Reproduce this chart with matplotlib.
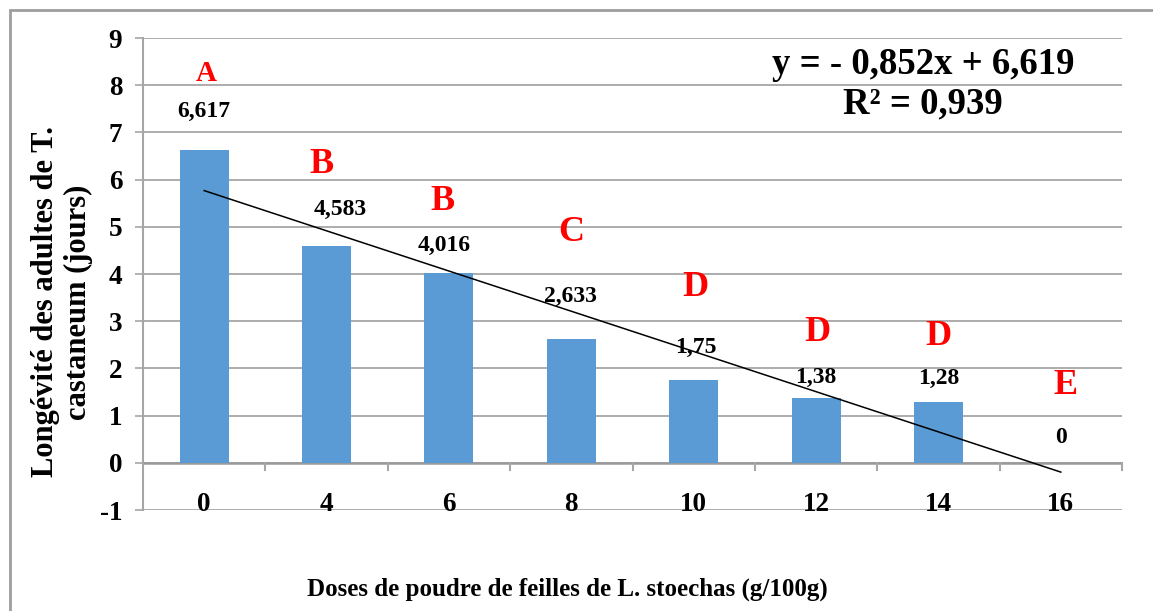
import matplotlib
matplotlib.use("Agg")
import matplotlib.pyplot as plt
from matplotlib.patches import Rectangle

# Data
doses = ["0", "4", "6", "8", "10", "12", "14", "16"]
longevity = [6.617, 4.583, 4.016, 2.633, 1.75, 1.38, 1.28, 0.0]
value_labels = ["6,617", "4,583", "4,016", "2,633", "1,75", "1,38", "1,28", "0"]
groups = ["A", "B", "B", "C", "D", "D", "D", "E"]
slope, intercept = -0.852, 6.619
r2_text = "R² = 0,939"
eq_text = "y = - 0,852x + 6,619"

# Label placement (data units) and letter sizes
value_label_x = [0.0, 1.11, 1.96, 2.99, 4.02, 5.0, 6.0, 7.0]
value_label_y = [7.45, 5.37, 4.61, 3.52, 2.44, 1.80, 1.78, 0.53]
group_label_x = [0.02, 0.96, 1.95, 3.0, 4.01, 5.01, 6.0, 7.04]
group_label_y = [8.24, 6.31, 5.54, 4.88, 3.72, 2.76, 2.68, 1.63]
group_label_size = [21, 26, 26, 26, 26, 26, 26, 26]

W, H = 1153, 611
fig = plt.figure(figsize=(W / 100, H / 100), dpi=100)
plt.rcParams["font.family"] = ["Liberation Serif", "DejaVu Serif"]
plt.rcParams["font.weight"] = "bold"

ax = fig.add_axes([143 / W, 1 - 510 / H, (1122 - 143) / W, (510 - 38) / H])
grid_c = "#A6A6A6"

x = list(range(len(doses)))
ax.bar(x, longevity, width=0.40, color="#5B9BD5", zorder=2)

# Linear trend over category index 1..n
tx = [x[0], x[-1]]
ty = [slope * (i + 1) + intercept for i in tx]
ax.plot(tx, ty, color="black", lw=1.1, zorder=3)

ax.set_xlim(-0.5, len(doses) - 0.5)
ax.set_ylim(-1, 9)
ax.set_yticks(range(-1, 10))
ax.set_yticklabels([str(v) for v in range(-1, 10)], fontsize=19.5, fontweight="bold")
ax.tick_params(axis="y", length=6, width=1.2, color=grid_c, pad=9)
ax.set_xticks([])
for s in ["top", "right", "bottom"]:
    ax.spines[s].set_visible(False)
ax.spines["left"].set_color(grid_c)
ax.spines["left"].set_linewidth(1.5)
ax.grid(axis="y", color=grid_c, lw=1.3, zorder=0)
ax.set_axisbelow(True)

# Category axis at zero with boundary ticks
ax.axhline(0, color="#9A9A9A", lw=1.8, zorder=1)
for b in range(1, len(doses) + 1):
    ax.plot([b - 0.5, b - 0.5], [0, -0.16], color=grid_c, lw=1.5, zorder=1, clip_on=False)

for i, lab in enumerate(doses):
    ax.text(i, -0.88, lab, ha="center", va="center", fontsize=19.5, fontweight="bold")

for xi, yi, t in zip(value_label_x, value_label_y, value_labels):
    ax.text(xi, yi, t, ha="center", va="center", fontsize=17, fontweight="bold", zorder=4)
for xi, yi, t, fs in zip(group_label_x, group_label_y, groups, group_label_size):
    ax.text(xi, yi, t, ha="center", va="center", fontsize=fs, fontweight="bold",
            color="#FF0000", zorder=4)

fig.text(923 / W, 1 - 64 / H, eq_text, ha="center", va="center", fontsize=26.5, fontweight="bold")
fig.text(923 / W, 1 - 104 / H, r2_text, ha="center", va="center", fontsize=26.5, fontweight="bold")

fig.text(62 / W, 1 - 302 / H, "Longévité des adultes de T.\ncastaneum (jours)",
         rotation=90, ha="center", va="center", multialignment="center",
         fontsize=22, fontweight="bold", linespacing=1.22)
fig.text(567 / W, 1 - 589 / H, "Doses de poudre de feilles de L. stoechas (g/100g)",
         ha="center", va="center", fontsize=18, fontweight="bold")

fig.patches.append(Rectangle((10 / W, -0.1), 1.2, 1 - 10 / H + 0.1, transform=fig.transFigure,
                             fill=False, edgecolor="#9E9E9E", lw=2.0))

fig.savefig("out.png", dpi=100)
